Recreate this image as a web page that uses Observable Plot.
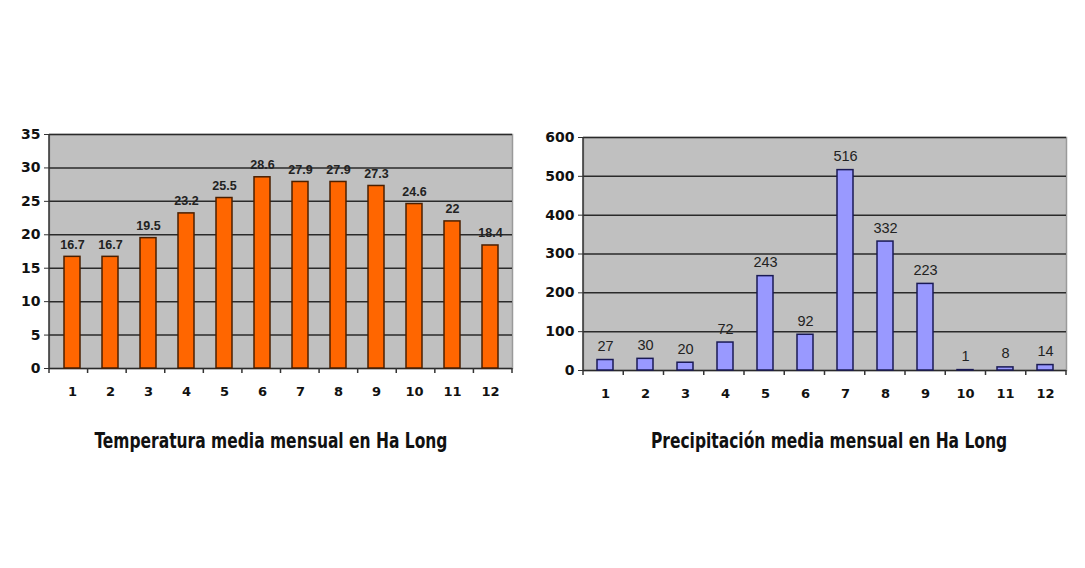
<!DOCTYPE html>
<html><head><meta charset="utf-8">
<script src="https://cdn.jsdelivr.net/npm/d3@7"></script>
<script src="https://cdn.jsdelivr.net/npm/@observablehq/plot@0.6"></script>
<style>
body{margin:0;background:#fff;width:1085px;height:568px;position:relative;overflow:hidden;}
.chart{position:absolute;}
.title{position:absolute;font-family:"DejaVu Sans Condensed",sans-serif;font-weight:bold;font-size:21px;color:#111;text-align:center;white-space:nowrap;font-stretch:condensed;transform:scaleX(0.82);transform-origin:center;}
</style></head>
<body>
<div id="c1" class="chart" style="left:0;top:100px"></div>
<div id="c2" class="chart" style="left:540px;top:100px"></div>
<div class="title" style="left:0;width:542px;top:429px">Temperatura media mensual en Ha Long</div>
<div class="title" style="left:558px;width:542px;top:429px">Precipitación media mensual en Ha Long</div>
<script>
const months = [1,2,3,4,5,6,7,8,9,10,11,12];
const temperature = [16.7,16.7,19.5,23.2,25.5,28.6,27.9,27.9,27.3,24.6,22,18.4];
const precipitation = [27,30,20,72,243,92,516,332,223,1,8,14];
const tempTicks = [0,5,10,15,20,25,30,35];
const precipTicks = [0,100,200,300,400,500,600];

function edgeMark(n){
  return (index, scales, values, dims) => {
    const g = d3.create("svg:g").attr("stroke","#333").attr("stroke-width",1.5);
    const l = dims.marginLeft, r = dims.width - dims.marginRight, b = dims.height - dims.marginBottom, t = dims.marginTop;
    const step = (r - l) / n;
    for (let i = 0; i <= n; i++) {
      g.append("line").attr("x1", l + i*step).attr("x2", l + i*step).attr("y1", b).attr("y2", b + 5);
    }
    g.append("line").attr("x1", l).attr("x2", l).attr("y1", t).attr("y2", b);
    return g.node();
  };
}

function makeChart(vals, ticks, ymax, opts){
  const data = months.map((m,i)=>({m, v: vals[i]}));
  return Plot.plot({
    width: opts.width, height: opts.height,
    marginLeft: opts.ml, marginRight: opts.mr, marginTop: opts.mt, marginBottom: opts.mb,
    style: {background:"transparent", overflow:"visible"},
    x: {type:"band", domain: months, paddingInner: opts.pad, paddingOuter: opts.pad/2, axis: null, label: null},
    y: {domain:[0, ymax], axis: null, label: null},
    marks: [
      Plot.frame({fill:"#c0c0c0", stroke:"#9a9a9a", strokeWidth:1.5}),
      Plot.ruleY(ticks, {stroke:"#2a2a2a", strokeWidth:1.5}),
      Plot.axisY({ticks, label: null, tickSize:5, tickPadding:4, stroke:"#333", fontSize:14, fontWeight:"bold", fontFamily:"DejaVu Sans", fill:"#111"}),
      Plot.axisX({label: null, tickSize:0, tickPadding:18, fontSize:13, fontWeight:"bold", fontFamily:"DejaVu Sans", fill:"#111"}),
      Plot.barY(data, {x:"m", y:"v", fill: opts.fill, stroke: opts.stroke, strokeWidth:1.5}),
      Plot.text(data, {x:"m", y:"v", text: d => String(d.v), dy: opts.dy, lineAnchor:"bottom",
        fontSize: opts.lfs, fontWeight: opts.lfw, fontFamily:"Liberation Sans, Arial, sans-serif", fill:"#222"}),
      edgeMark(months.length)
    ]
  });
}

document.getElementById("c1").appendChild(makeChart(temperature, tempTicks, 35,
  {width:530, height:310, ml:49, mr:18, mt:34, mb:42, pad:0.58, fill:"#ff6600", stroke:"#4a1f00", dy:-8, lfs:12.5, lfw:"bold"}));
document.getElementById("c2").appendChild(makeChart(precipitation, precipTicks, 600,
  {width:540, height:312, ml:43, mr:14, mt:37, mb:42, pad:0.6, fill:"#9999ff", stroke:"#1a1a55", dy:-9, lfs:14.5, lfw:"normal"}));
</script>
</body></html>
